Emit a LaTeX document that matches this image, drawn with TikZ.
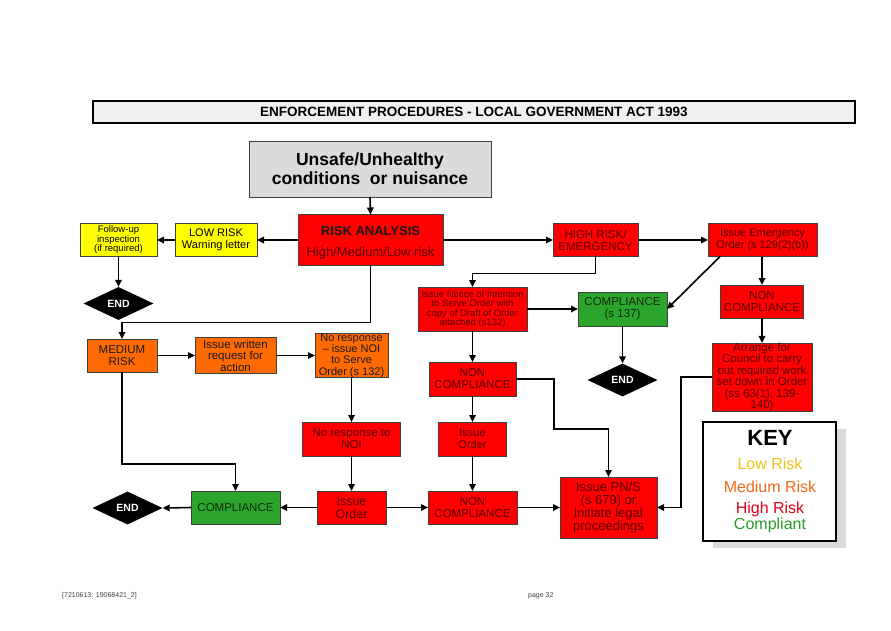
\documentclass[tikz,border=0pt]{standalone}
\usepackage{fontspec}
\setmainfont{Liberation Sans}
\usetikzlibrary{arrows.meta,shapes.geometric}
\definecolor{rfill}{HTML}{FF0000}
\definecolor{rtext}{HTML}{560000}
\definecolor{yfill}{HTML}{FFFF00}
\definecolor{ofill}{HTML}{FF6A00}
\definecolor{gfill}{HTML}{2CA52C}
\definecolor{gtext}{HTML}{0A2A0A}
\definecolor{keyy}{HTML}{F2C21A}
\definecolor{keyo}{HTML}{F26A1A}
\definecolor{keyr}{HTML}{E0001A}
\definecolor{keyg}{HTML}{2A9A2A}
\newcommand{\fs}[2]{\fontsize{#1}{#2}\selectfont}
\tikzset{
  box/.style={draw=black!75, line width=0.8pt, align=center, inner sep=0pt, outer sep=0pt},
  redbox/.style={box, fill=rfill, text=rtext, font=\fs{11.5}{12}},
  yelbox/.style={box, fill=yfill, text=black},
  orabox/.style={box, fill=ofill, text=black!90, font=\fs{11.5}{11.5}},
  grebox/.style={box, fill=gfill, text=gtext, font=\fs{11.5}{12}},
  endnode/.style={diamond, fill=black, text=white, font=\bfseries\fs{10.5}{11}, inner sep=0pt, aspect=2.1, minimum width=70pt, minimum height=33pt},
  arr/.style={-{Triangle[length=7pt,width=6.5pt]}, line width=1.6pt, black},
  keytxt/.style={font=\fs{16}{18}}
}
\begin{document}
\begin{tikzpicture}[x=1pt,y=-1pt]
\useasboundingbox (0,0) rectangle (891,630);
% title
\node[box, draw=black, line width=1.6pt, fill=gray!12, minimum width=762pt, minimum height=22pt, font=\bfseries\fs{13.5}{14}] (title) at (474,112) {ENFORCEMENT PROCEDURES - LOCAL GOVERNMENT ACT 1993};
% top
\node[box, fill=gray!28, minimum width=242pt, minimum height=56pt, font=\bfseries\fs{17.5}{19}] (unsafe) at (370,169) {Unsafe/Unhealthy\\conditions\ \ or nuisance};
\node[redbox, minimum width=145pt, minimum height=51pt] (risk) at (370.5,240) {};
\node[font=\bfseries\fs{13}{14}, text=black!90] (riskt) at (370.5,231.5) {RISK ANALYSIS};
\node[font=\fs{13}{14}, text=rtext] (risks) at (370.5,253.5) {High/Medium/Low risk};
\node[yelbox, minimum width=82pt, minimum height=33pt, font=\fs{11}{12}] (low) at (216,240) {LOW RISK\\Warning letter};
\node[yelbox, minimum width=77pt, minimum height=33pt, font=\fs{9.5}{9.5}] (follow) at (118.5,240) {Follow-up\\inspection\\(if required)};
\node[endnode] (end1) at (118.5,303.5) {END};
% medium row
\node[orabox, minimum width=70pt, minimum height=33pt] (medium) at (122,355.5) {MEDIUM\\RISK};
\node[orabox, minimum width=81pt, minimum height=36pt] (written) at (235.5,355.5) {Issue written\\request for\\action};
\node[orabox, minimum width=73pt, minimum height=44pt, font=\fs{11}{11.3}] (noresp) at (351.5,355.5) {No response\\– issue NOI\\to Serve\\Order (s 132)};
\node[redbox, minimum width=98pt, minimum height=34pt] (noresp2) at (351.5,439) {No response to\\NOI};
\node[redbox, minimum width=69pt, minimum height=33pt, font=\fs{12.5}{13}] (issueord1) at (351.5,507.5) {Issue\\Order};
\node[grebox, minimum width=89pt, minimum height=33pt] (comp1) at (235.5,507.5) {COMPLIANCE};
\node[endnode] (end2) at (127.5,508) {END};
% middle column
\node[redbox, minimum width=109pt, minimum height=44pt, font=\fs{9.5}{9.5}] (notice) at (472.5,309) {Issue Notice of Intention\\to Serve Order with\\copy of Draft of Order\\attached (s132)};
\node[redbox, minimum width=87pt, minimum height=34pt] (noncomp2) at (472.5,379) {NON\\COMPLIANCE};
\node[redbox, minimum width=68pt, minimum height=34pt, font=\fs{11}{11.5}] (issueord2) at (472.5,439) {Issue\\Order};
\node[redbox, minimum width=89pt, minimum height=33pt] (noncomp3) at (472.5,507.5) {NON\\COMPLIANCE};
\node[redbox, minimum width=97pt, minimum height=61pt, font=\fs{13}{13}] (pns) at (608.5,507.5) {Issue PN/S\\(s 679) or\\initiate legal\\proceedings};
\node[grebox, minimum width=89pt, minimum height=34pt] (comp137) at (622.5,309) {COMPLIANCE\\(s 137)};
\node[endnode] (end3) at (622.5,380) {END};
% right
\node[redbox, minimum width=85pt, minimum height=33pt] (high) at (595.5,240) {HIGH RISK/\\EMERGENCY};
\node[redbox, minimum width=109pt, minimum height=33pt, font=\fs{11}{12}] (emerg) at (762.5,240) {Issue Emergency\\Order (s 129(2)(b))};
\node[redbox, minimum width=83pt, minimum height=33pt] (noncomp1) at (762,301.5) {NON\\COMPLIANCE};
\node[redbox, minimum width=100pt, minimum height=64pt, font=\fs{11.5}{11.5}] (arrange) at (762,377) {Arrange for\\Council to carry\\out required work\\set down in Order\\(ss 63(1), 139-\\140)};
% key
\fill[gray!30] (713,429) rectangle (846,548);
\node[draw=black, line width=2.6pt, fill=white, minimum width=133pt, minimum height=119pt, inner sep=0pt] (key) at (769.5,481.5) {};
\node[font=\bfseries\fs{22}{24}] (keyt) at (770,438) {KEY};
\node[keytxt, text=keyy] (k1) at (770,463.5) {Low Risk};
\node[keytxt, text=keyo] (k2) at (770,486.5) {Medium Risk};
\node[keytxt, text=keyr] (k3) at (770,509) {High Risk};
\node[keytxt, text=keyg] (k4) at (770,525) {Compliant};
% footer
\node[font=\fs{7}{8}, text=black!75, anchor=west, inner sep=0pt] (foot1) at (62,596) {[7210613: 19068421\_2]};
\node[font=\fs{7}{8}, text=black!75, anchor=west, inner sep=0pt] (foot2) at (528,596) {page 32};
% connectors
\draw[arr] (unsafe.south) -- (risk.north);
\draw[arr] (risk.west) -- (low.east);
\draw[arr] (low.west) -- (follow.east);
\draw[arr] (follow.south) -- (end1.north);
\draw[arr] (risk.south) -- ++(0,57) -| (medium.north);
\draw[arr] (risk.east) -- (high.west);
\draw[arr] (high.east) -- (emerg.west);
\draw[arr] (high.south) -- ++(0,17) -| (notice.north);
\draw[arr] ([xshift=12pt]emerg.south west) -- (comp137.east);
\draw[arr] (emerg.south -| noncomp1.north) -- (noncomp1.north);
\draw[arr] (noncomp1.south) -- (arrange.north);
\draw[arr] (notice.east) -- (comp137.west);
\draw[arr] (comp137.south) -- (end3.north);
\draw[arr] (notice.south) -- (noncomp2.north);
\draw[arr] (noncomp2.east) -| ++(38,50) -| (pns.north);
\draw[arr] (noncomp2.south) -- (issueord2.north);
\draw[arr] (issueord2.south) -- (noncomp3.north);
\draw[arr] (noncomp3.east) -- (pns.west);
\draw[arr] (arrange.west) -- ++(-31,0) |- (pns.east);
\draw[arr] (medium.east) -- (written.west);
\draw[arr] (written.east) -- (noresp.west);
\draw[arr] (noresp.south) -- (noresp2.north);
\draw[arr] (noresp2.south) -- (issueord1.north);
\draw[arr] (issueord1.west) -- (comp1.east);
\draw[arr] (issueord1.east) -- (noncomp3.west);
\draw[arr] (comp1.west) -- (end2.east);
\draw[arr] (medium.south) -- ++(0,92) -| (comp1.north);
\end{tikzpicture}
\end{document}
